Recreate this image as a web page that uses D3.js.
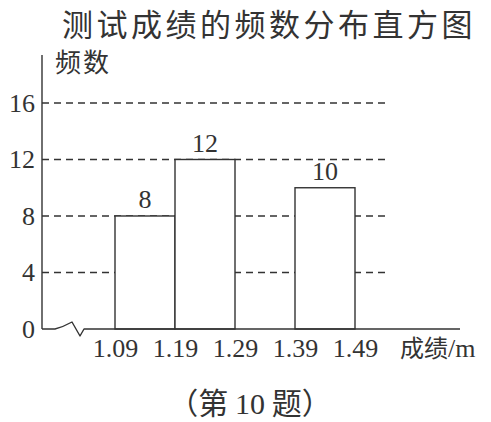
<!DOCTYPE html>
<html><head><meta charset="utf-8">
<script src="https://cdn.jsdelivr.net/npm/d3@7"></script>
<style>
html,body{margin:0;padding:0;background:#fff;}
svg{display:block;}
</style></head>
<body>
<script>
// ---- data ----
const binEdges = [1.09, 1.19, 1.29, 1.39, 1.49];
const barStarts = [1.09, 1.19, 1.39];
const barEnds = [1.19, 1.29, 1.49];
const freqs = [8, 12, 10];
const yTicks = [0, 4, 8, 12, 16];
const xTickLabels = ["1.09", "1.19", "1.29", "1.39", "1.49"];
const title = "测试成绩的频数分布直方图";
const yLabel = "频数";
const xLabelCJK = "成绩";
const xLabelUnit = "/m";
const caption = ["（第 ", "10", " 题）"];

const W = 491, H = 422;
const CJK = "'Noto Sans CJK SC', sans-serif";
const SERIF = "'Liberation Serif', 'DejaVu Serif', serif";
const ink = "#333";

const svg = d3.select("body").append("svg").attr("width", W).attr("height", H);

const x = d3.scaleLinear().domain([1.09, 1.49]).range([115, 355]);
const y = d3.scaleLinear().domain([0, 16]).range([329, 103]);
const axisX0 = 42;

// gridlines
svg.append("g").selectAll("line").data(yTicks.filter(d => d > 0)).join("line")
  .attr("x1", axisX0).attr("x2", 390)
  .attr("y1", d => y(d)).attr("y2", d => y(d))
  .attr("stroke", ink).attr("stroke-width", 1.3)
  .attr("stroke-dasharray", "7,5");

// bars
const bars = barStarts.map((s, i) => ({ s, e: barEnds[i], v: freqs[i] }));
svg.append("g").selectAll("rect").data(bars).join("rect")
  .attr("x", d => x(d.s)).attr("width", d => x(d.e) - x(d.s))
  .attr("y", d => y(d.v)).attr("height", d => y(0) - y(d.v))
  .attr("fill", "#fff").attr("stroke", ink).attr("stroke-width", 1.4);

// bar labels
svg.append("g").selectAll("text").data(bars).join("text")
  .attr("x", d => (x(d.s) + x(d.e)) / 2)
  .attr("y", d => y(d.v) - 8)
  .attr("text-anchor", "middle")
  .attr("font-family", SERIF).attr("font-size", 26).attr("fill", ink)
  .text(d => d.v);

// y axis
const yAxis = svg.append("g").attr("transform", `translate(${axisX0},0)`)
  .call(d3.axisLeft(y).tickValues(yTicks).tickSize(0).tickPadding(7));
yAxis.select(".domain").remove();
yAxis.selectAll("text").attr("font-family", SERIF).attr("font-size", 26).attr("fill", ink);
svg.append("line").attr("x1", axisX0).attr("x2", axisX0).attr("y1", 55).attr("y2", y(0))
  .attr("stroke", ink).attr("stroke-width", 1.4);

// x axis
const xAxis = svg.append("g").attr("transform", `translate(0,${y(0)})`)
  .call(d3.axisBottom(x).tickValues(binEdges).tickSize(0).tickPadding(10)
    .tickFormat((d, i) => xTickLabels[i]));
xAxis.select(".domain").remove();
xAxis.selectAll("text").attr("font-family", SERIF).attr("font-size", 26).attr("fill", ink);

// x axis line with break mark
const y0 = y(0);
svg.append("path")
  .attr("d", `M${axisX0},${y0} L55,${y0} Q63,${y0 - 2} 72,${y0 - 7} L80,${y0 + 7} L84,${y0} L460,${y0}`)
  .attr("fill", "none").attr("stroke", ink).attr("stroke-width", 1.4).attr("stroke-linejoin", "round");

// title
svg.append("text").attr("x", 62).attr("y", 36)
  .attr("font-family", CJK).attr("font-size", 31).attr("letter-spacing", 3.5)
  .attr("fill", ink).text(title);

// y label
svg.append("text").attr("x", 55).attr("y", 72)
  .attr("font-family", CJK).attr("font-size", 26).attr("letter-spacing", 2)
  .attr("fill", ink).text(yLabel);

// x label
const xl = svg.append("text").attr("x", 400).attr("y", 357).attr("fill", ink);
xl.append("tspan").attr("font-family", CJK).attr("font-size", 24).text(xLabelCJK);
xl.append("tspan").attr("font-family", SERIF).attr("font-size", 26).text(xLabelUnit);

// caption
const cap = svg.append("text").attr("x", 250).attr("y", 414).attr("text-anchor", "middle").attr("fill", ink);
cap.append("tspan").attr("font-family", CJK).attr("font-size", 30).text(caption[0]);
cap.append("tspan").attr("font-family", SERIF).attr("font-size", 30).text(caption[1]);
cap.append("tspan").attr("font-family", CJK).attr("font-size", 30).text(caption[2]);
</script>
</body></html>
